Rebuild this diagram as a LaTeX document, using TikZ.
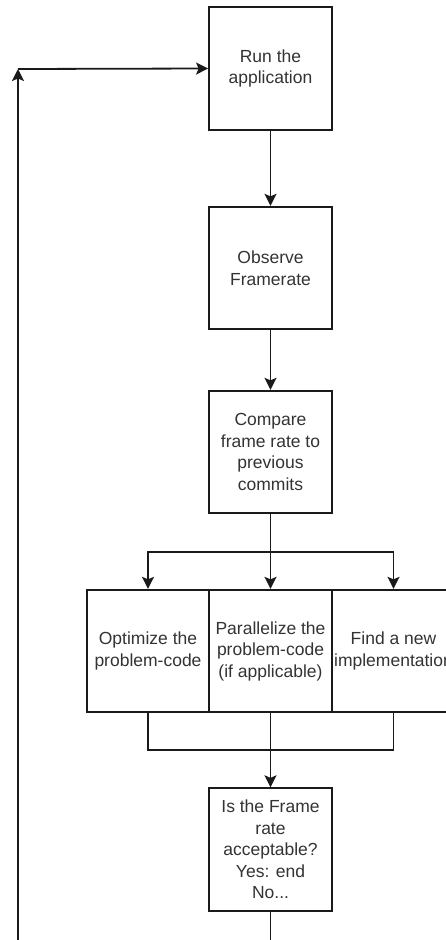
\documentclass[tikz,border=0pt]{standalone}
\usepackage{fontspec}
\setmainfont{Liberation Sans}
\usetikzlibrary{arrows.meta}
\definecolor{txt}{HTML}{333333}
\definecolor{ln}{HTML}{1A1A1A}
\begin{document}
\begin{tikzpicture}[x=1pt,y=-1pt,
  box/.style={draw=ln, line width=1.8pt, minimum width=123pt, minimum height=122.5pt,
    inner sep=0pt, align=center, text=txt, font=\fontsize{17.5}{21.5}\selectfont},
  conn/.style={draw=ln, line width=1.8pt},
  arr/.style={conn, -{Stealth[length=12pt,width=12pt,inset=2.5pt]}}]
\useasboundingbox (0,0) rectangle (446,940);
\clip (0,0) rectangle (446,940);
\node[box] (run) at (270.5,68.5) {Run the\\application};
\node[box] (obs) at (270.5,268) {Observe\\Framerate};
\node[box] (cmp) at (270.5,452) {Compare\\frame rate to\\previous\\commits};
\node[box, minimum width=122pt] (opt) at (148,651) {Optimize the\\problem-code};
\node[box] (par) at (270.5,651) {Parallelize the\\problem-code\\(if applicable)};
\node[box] (fnd) at (393.5,651) {Find a new\\implementation};
\node[box] (chk) at (270.5,849.5) {Is the Frame\\rate\\acceptable?\\Yes: end\\No...};
\coordinate (split) at (270.5,552);
\coordinate (merge) at (270.5,750);
\coordinate (corner) at (18,69);
\coordinate (exit) at (270.5,970);
\draw[arr] (run) -- (obs);
\draw[arr] (obs) -- (cmp);
\draw[conn] (cmp.south) -- (split);
\draw[arr] (split) -- (par.north);
\draw[arr] (split) -| (opt.north);
\draw[arr] (split) -| (fnd.north);
\draw[conn] (opt.south) |- (merge);
\draw[conn] (fnd.south) |- (merge);
\draw[arr] (par.south) -- (chk.north);
\draw[arr] (chk.south) -- (exit) -| (corner);
\draw[arr] (corner) -- (run.west);
\end{tikzpicture}
\end{document}
